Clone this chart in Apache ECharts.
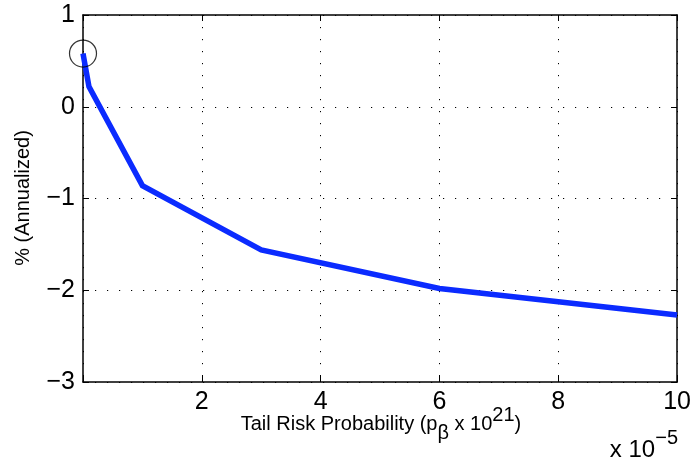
<!DOCTYPE html>
<html>
<head>
<meta charset="utf-8">
<script src="https://cdn.jsdelivr.net/npm/echarts@6/dist/echarts.min.js"></script>
<style>
  html, body { margin: 0; padding: 0; background: #fff; }
  #chart { width: 694px; height: 464px; }
</style>
</head>
<body>
<div id="chart"></div>
<script>
// Tail risk probability (units of 1e-5) against annualized return (%)
const tailProb = [0, 0.1, 1, 3, 6, 10];
const annualized = [0.58, 0.22, -0.86, -1.56, -1.98, -2.27];
// highlighted starting point
const markedPoint = [0, 0.58];

const xTicks = { min: 0, max: 10, interval: 2 };
const yTicks = { min: -3, max: 1, interval: 1 };

const FONT = "'Liberation Sans', Arial, Helvetica, sans-serif";
const lineData = tailProb.map((x, i) => [x, annualized[i]]);

const fmtNum = v => (v < 0 ? '\u2212' + Math.abs(v) : String(v));

const dotted = { color: '#000', width: 1, type: [1.2, 10.8] };
const frameLine = { show: true, onZero: false, lineStyle: { color: '#000', width: 1.5 } };
const tickIn = { show: true, inside: true, length: 6, lineStyle: { color: '#000', width: 1 } };

const chart = echarts.init(document.getElementById('chart'));
chart.setOption({
  animation: false,
  backgroundColor: '#fff',
  grid: { left: 83, right: 15, top: 15, bottom: 82, containLabel: false },
  xAxis: [
    {
      type: 'value', position: 'bottom',
      min: xTicks.min, max: xTicks.max, interval: xTicks.interval,
      axisLine: frameLine, axisTick: tickIn,
      axisLabel: {
        show: true, margin: 8, color: '#000', fontSize: 25, fontFamily: FONT,
        showMinLabel: true, showMaxLabel: true,
        formatter: v => (v === 0 ? '' : fmtNum(v))
      },
      splitLine: { show: true, lineStyle: dotted }
    },
    {
      type: 'value', position: 'top',
      min: xTicks.min, max: xTicks.max, interval: xTicks.interval,
      axisLine: frameLine, axisTick: tickIn,
      axisLabel: { show: false }, splitLine: { show: false }
    }
  ],
  yAxis: [
    {
      type: 'value', position: 'left',
      min: yTicks.min, max: yTicks.max, interval: yTicks.interval,
      axisLine: frameLine, axisTick: tickIn,
      axisLabel: {
        show: true, margin: 8, color: '#000', fontSize: 25, fontFamily: FONT,
        showMinLabel: true, showMaxLabel: true, formatter: fmtNum
      },
      splitLine: { show: true, lineStyle: dotted }
    },
    {
      type: 'value', position: 'right',
      min: yTicks.min, max: yTicks.max, interval: yTicks.interval,
      axisLine: frameLine, axisTick: tickIn,
      axisLabel: { show: false }, splitLine: { show: false }
    }
  ],
  graphic: [
    {
      type: 'text', x: 381, y: 424,
      style: {
        x: 0, y: 0, align: 'center', verticalAlign: 'middle',
        text: 'Tail Risk Probability (p{sub|\u03b2} x 10{sup|21})',
        fill: '#000', fontSize: 20, fontFamily: FONT, lineHeight: 38,
        rich: {
          sub: { fontSize: 20, fontFamily: FONT, lineHeight: 20, verticalAlign: 'bottom', fill: '#000' },
          sup: { fontSize: 20, fontFamily: FONT, lineHeight: 28, verticalAlign: 'top', fill: '#000' }
        }
      }
    },
    {
      type: 'text', x: 678, y: 450,
      style: {
        x: 0, y: 0, align: 'right', verticalAlign: 'middle',
        text: 'x 10{sup|\u22125}',
        fill: '#000', fontSize: 24, fontFamily: FONT, lineHeight: 44,
        rich: {
          sup: { fontSize: 20, fontFamily: FONT, lineHeight: 24, verticalAlign: 'top', fill: '#000' }
        }
      }
    },
    {
      type: 'text', rotation: Math.PI / 2, x: 23, y: 198,
      style: {
        x: 0, y: 0, align: 'center', verticalAlign: 'middle',
        text: '% (Annualized)', fill: '#000', fontSize: 20, fontFamily: FONT
      }
    }
  ],
  series: [
    {
      type: 'line', xAxisIndex: 0, yAxisIndex: 0,
      data: lineData, showSymbol: false, symbol: 'none',
      lineStyle: { color: '#0b2bff', width: 5.5, cap: 'butt', join: 'miter' },
      z: 3
    },
    {
      type: 'scatter', xAxisIndex: 0, yAxisIndex: 0, clip: false,
      data: [markedPoint], symbol: 'circle', symbolSize: 27,
      itemStyle: { color: 'rgba(0,0,0,0)', borderColor: '#000', borderWidth: 1.2 },
      z: 4
    }
  ]
});
</script>
</body>
</html>
